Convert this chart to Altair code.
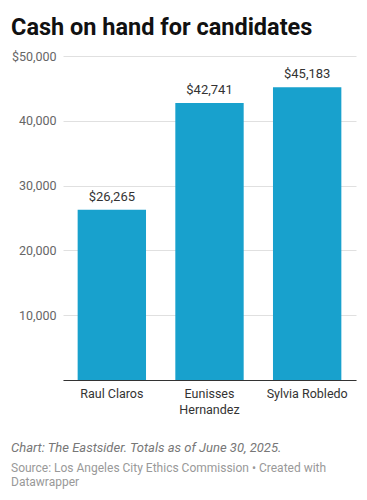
import altair as alt
import pandas as pd

candidates = ["Raul Claros", "Eunisses Hernandez", "Sylvia Robledo"]
cash = [26265, 42741, 45183]
value_labels = ["$26,265", "$42,741", "$45,183"]
y_ticks = [0, 10000, 20000, 30000, 40000, 50000]

footer_line = "Chart: The Eastsider. Totals as of June 30, 2025."
source_line_1 = "Source: Los Angeles City Ethics Commission • Created with"
source_line_2 = "Datawrapper"

df = pd.DataFrame({"candidate": candidates, "cash": cash, "label": value_labels})

FONT = "Roboto"

x_enc = alt.X(
    "candidate:N",
    sort=candidates,
    scale=alt.Scale(paddingInner=0.3, paddingOuter=0.15),
    axis=alt.Axis(
        title=None,
        labelAngle=0,
        ticks=False,
        domainColor="#333333",
        domainWidth=1,
        labelColor="#333333",
        labelFontSize=12.5,
        labelFont=FONT,
        labelPadding=7,
        labelLineHeight=16,
        labelExpr="datum.label == 'Eunisses Hernandez' ? ['Eunisses', 'Hernandez'] : datum.label",
    ),
)

y_enc = alt.Y(
    "cash:Q",
    scale=alt.Scale(domain=[0, 50000], nice=False),
    axis=alt.Axis(
        title=None,
        values=y_ticks,
        domain=False,
        ticks=False,
        gridColor="#e0e0e0",
        gridWidth=1,
        labelColor="#666666",
        labelFontSize=12.5,
        labelFont=FONT,
        labelPadding=7,
        labelExpr="datum.value == 0 ? '' : (datum.value == 50000 ? '$50,000' : format(datum.value, ','))",
    ),
)

bars = alt.Chart(df).mark_bar(color="#18a1cd").encode(x=x_enc, y=y_enc)

texts = alt.Chart(df).mark_text(
    baseline="bottom", dy=-6, fontSize=13, font=FONT, color="#333333"
).encode(x=alt.X("candidate:N", sort=candidates), y="cash:Q", text="label:N")


def note(text, y, size, color, style="normal"):
    return alt.Chart(pd.DataFrame({"t": [text]})).mark_text(
        align="left", baseline="middle", fontSize=size, font=FONT, fontStyle=style, color=color
    ).encode(x=alt.value(-52), y=alt.value(y), text="t:N")


foot1 = note(footer_line, 392, 13, "#777777", "italic")
foot2 = note(source_line_1, 412, 12, "#999999")
foot3 = note(source_line_2, 426, 12, "#999999")

chart = alt.layer(bars, texts, foot1, foot2, foot3).properties(
    width=293,
    height=324,
    padding={"left": 55, "top": 48, "right": 3, "bottom": 110},
    autosize=alt.AutoSizeParams(type="none"),
    title=alt.TitleParams(
        "Cash on hand for candidates",
        anchor="start",
        frame="group",
        dx=-52,
        fontSize=23.5,
        font=FONT,
        fontWeight="bold",
        color="#111111",
        offset=11,
    ),
).configure_view(stroke=None)

chart.save("out.html", embed_options={"renderer": "svg", "actions": False})
